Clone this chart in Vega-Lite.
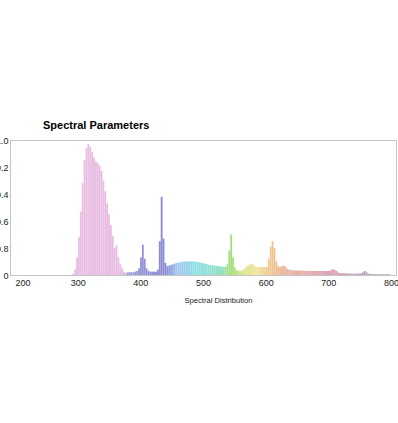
{
  "$schema": "https://vega.github.io/schema/vega-lite/v6.json",
  "width": 386,
  "height": 135,
  "autosize": {"type": "none"},
  "padding": {"left": 10, "top": 140, "right": 2, "bottom": 148},
  "background": "white",
  "title": {"text": "Spectral Parameters", "anchor": "start", "frame": "group", "dx": 33, "offset": -4, "fontSize": 11, "fontWeight": "bold", "font": "Liberation Sans", "color": "#000000", "baseline": "alphabetic"},
  "config": {"view": {"stroke": "#c4c4c4", "strokeWidth": 1}, "font": "Liberation Sans"},
  "data": {"values": [
    {"nm":290,"v":0.0},{"nm":293,"v":0.01},{"nm":296,"v":0.04},{"nm":299,"v":0.13},{"nm":302,"v":0.28},{"nm":305,"v":0.47},{"nm":308,"v":0.68},{"nm":311,"v":0.85},{"nm":314,"v":0.94},{"nm":317,"v":0.97},
    {"nm":320,"v":0.95},{"nm":323,"v":0.91},{"nm":326,"v":0.87},{"nm":329,"v":0.84},{"nm":332,"v":0.83},{"nm":335,"v":0.81},{"nm":338,"v":0.77},{"nm":341,"v":0.70},{"nm":344,"v":0.62},{"nm":347,"v":0.53},
    {"nm":350,"v":0.45},{"nm":353,"v":0.37},{"nm":356,"v":0.29},{"nm":359,"v":0.20},{"nm":362,"v":0.22},{"nm":365,"v":0.13},{"nm":368,"v":0.08},{"nm":371,"v":0.05},{"nm":374,"v":0.025},{"nm":377,"v":0.015},
    {"nm":380,"v":0.02},{"nm":383,"v":0.02},{"nm":386,"v":0.02},{"nm":389,"v":0.02},{"nm":392,"v":0.025},{"nm":395,"v":0.03},{"nm":398,"v":0.05},{"nm":401,"v":0.13},{"nm":404,"v":0.225},{"nm":407,"v":0.12},
    {"nm":410,"v":0.05},{"nm":413,"v":0.03},{"nm":416,"v":0.025},{"nm":419,"v":0.025},{"nm":422,"v":0.025},{"nm":425,"v":0.025},{"nm":428,"v":0.04},{"nm":431,"v":0.25},{"nm":434,"v":0.58},{"nm":437,"v":0.27},
    {"nm":440,"v":0.09},{"nm":443,"v":0.065},{"nm":446,"v":0.07},{"nm":449,"v":0.075},{"nm":452,"v":0.08},{"nm":455,"v":0.085},{"nm":458,"v":0.09},{"nm":461,"v":0.093},{"nm":464,"v":0.096},{"nm":467,"v":0.098},
    {"nm":470,"v":0.10},{"nm":473,"v":0.10},{"nm":476,"v":0.10},{"nm":479,"v":0.10},{"nm":482,"v":0.102},{"nm":485,"v":0.10},{"nm":488,"v":0.10},{"nm":491,"v":0.097},{"nm":494,"v":0.094},{"nm":497,"v":0.091},
    {"nm":500,"v":0.088},{"nm":503,"v":0.084},{"nm":506,"v":0.08},{"nm":509,"v":0.077},{"nm":512,"v":0.074},{"nm":515,"v":0.072},{"nm":518,"v":0.07},{"nm":521,"v":0.068},{"nm":524,"v":0.066},{"nm":527,"v":0.064},
    {"nm":530,"v":0.062},{"nm":533,"v":0.061},{"nm":536,"v":0.06},{"nm":539,"v":0.08},{"nm":542,"v":0.18},{"nm":545,"v":0.30},{"nm":548,"v":0.13},{"nm":551,"v":0.055},{"nm":554,"v":0.035},{"nm":557,"v":0.032},
    {"nm":560,"v":0.032},{"nm":563,"v":0.035},{"nm":566,"v":0.045},{"nm":569,"v":0.06},{"nm":572,"v":0.07},{"nm":575,"v":0.08},{"nm":578,"v":0.085},{"nm":581,"v":0.075},{"nm":584,"v":0.063},{"nm":587,"v":0.06},
    {"nm":590,"v":0.06},{"nm":593,"v":0.06},{"nm":596,"v":0.06},{"nm":599,"v":0.058},{"nm":602,"v":0.06},{"nm":605,"v":0.12},{"nm":608,"v":0.21},{"nm":611,"v":0.25},{"nm":614,"v":0.2},{"nm":617,"v":0.1},
    {"nm":620,"v":0.065},{"nm":623,"v":0.06},{"nm":626,"v":0.065},{"nm":629,"v":0.07},{"nm":632,"v":0.06},{"nm":635,"v":0.045},{"nm":638,"v":0.038},{"nm":641,"v":0.035},{"nm":644,"v":0.035},{"nm":647,"v":0.034},
    {"nm":650,"v":0.034},{"nm":653,"v":0.033},{"nm":656,"v":0.033},{"nm":659,"v":0.032},{"nm":662,"v":0.032},{"nm":665,"v":0.031},{"nm":668,"v":0.03},{"nm":671,"v":0.03},{"nm":674,"v":0.03},{"nm":677,"v":0.03},
    {"nm":680,"v":0.03},{"nm":683,"v":0.03},{"nm":686,"v":0.03},{"nm":689,"v":0.03},{"nm":692,"v":0.03},{"nm":695,"v":0.03},{"nm":698,"v":0.03},{"nm":701,"v":0.032},{"nm":704,"v":0.035},{"nm":707,"v":0.042},
    {"nm":710,"v":0.04},{"nm":713,"v":0.03},{"nm":716,"v":0.018},{"nm":719,"v":0.015},{"nm":722,"v":0.014},{"nm":725,"v":0.013},{"nm":728,"v":0.012},{"nm":731,"v":0.012},{"nm":734,"v":0.011},{"nm":737,"v":0.01},
    {"nm":740,"v":0.01},{"nm":743,"v":0.01},{"nm":746,"v":0.01},{"nm":749,"v":0.011},{"nm":752,"v":0.012},{"nm":755,"v":0.02},{"nm":758,"v":0.03},{"nm":761,"v":0.02},{"nm":764,"v":0.01},{"nm":767,"v":0.008},
    {"nm":770,"v":0.007},{"nm":773,"v":0.006},{"nm":776,"v":0.006},{"nm":779,"v":0.005},{"nm":782,"v":0.005},{"nm":785,"v":0.005},{"nm":788,"v":0.005},{"nm":791,"v":0.005},{"nm":794,"v":0.005},{"nm":797,"v":0.005}
  ]},
  "mark": {"type": "bar", "size": 1.85},
  "encoding": {
    "x": {"field": "nm", "type": "quantitative",
      "scale": {"domain": [200, 800], "nice": false, "zero": false},
      "axis": {"title": "Spectral Distribution", "values": [200, 300, 400, 500, 600, 700, 800], "grid": false, "ticks": false, "domain": false,
        "labelPadding": 3, "labelFontSize": 9, "labelColor": "#222222", "labelFont": "Liberation Sans",
        "labelAlign": {"expr": "datum.value == 200 ? 'left' : 'center'"},
        "titleFontSize": 7.6, "titleFontWeight": "normal", "titleColor": "#222222", "titleFont": "Liberation Sans",
        "titleX": 208, "titleY": 27.5, "titleBaseline": "alphabetic"}},
    "y": {"field": "v", "type": "quantitative",
      "scale": {"domain": [0, 1], "nice": false},
      "axis": {"title": null, "values": [0, 0.2, 0.4, 0.6, 0.8, 1], "grid": false, "ticks": false, "domain": false,
        "labelPadding": 2, "labelFontSize": 9, "labelColor": "#222222", "labelFont": "Liberation Sans",
        "labelExpr": "datum.value == 1 ? '1.0' : datum.value == 0 ? '0' : format(1 - datum.value, '.1f')"}},
    "color": {"field": "nm", "type": "quantitative", "legend": null,
      "scale": {"type": "linear", "interpolate": "rgb",
        "domain": [290, 376, 380, 440, 458, 490, 528, 545, 565, 585, 610, 640, 700, 760, 800],
        "range": ["#ecbde2", "#e6bce2", "#9c9cdc", "#8a88d4", "#a4c4ee", "#8cdfe4", "#8fdfc6", "#a8dc78", "#d8e890", "#f0e49a", "#eec490", "#e8b0a0", "#dca0b0", "#bca0b8", "#a89aa8"]}}
  }
}
